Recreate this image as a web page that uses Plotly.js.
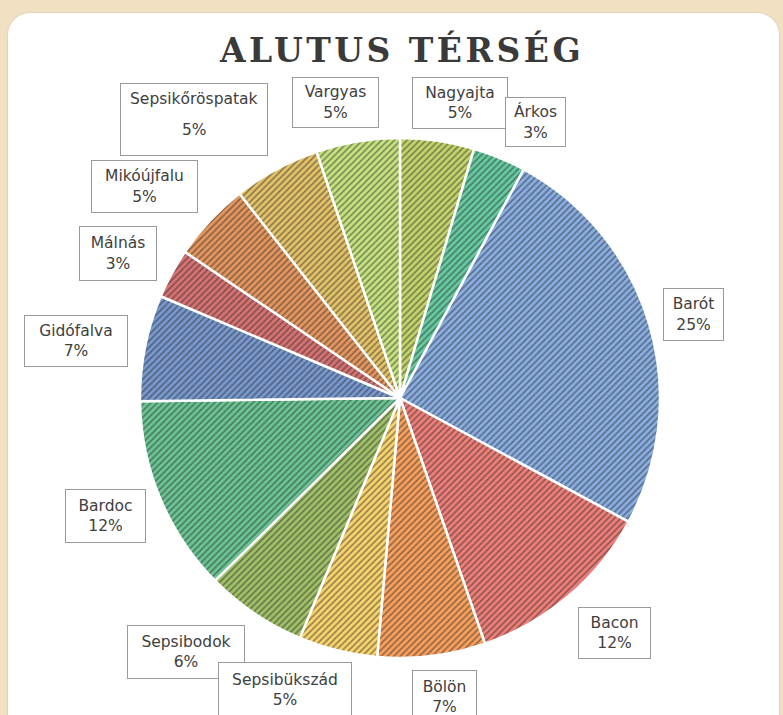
<!DOCTYPE html>
<html>
<head>
<meta charset="utf-8">
<script src="https://cdn.plot.ly/plotly-3.0.1.min.js"></script>
<style>
  html, body { margin: 0; padding: 0; background: #f2e0c3; width: 783px; height: 715px; overflow: hidden; }
  #panel { position: absolute; left: 8px; top: 13px; width: 771px; height: 730px; background: #ffffff;
           border-radius: 22px; box-shadow: 0 0 2px rgba(0,0,0,0.18); }
  #chart { position: absolute; left: 0; top: 0; width: 783px; height: 715px; }
  #chart .gtitle { letter-spacing: 3.5px; }
</style>
</head>
<body>
<div id="panel"></div>
<div id="chart"></div>
<script>
// ---- data ----
const categories = ["Nagyajta", "Árkos", "Barót", "Bacon", "Bölön", "Sepsibükszád", "Sepsibodok",
                    "Bardoc", "Gidófalva", "Málnás", "Mikóújfalu", "Sepsikőröspatak", "Vargyas"];
const values = [4.6, 3.3, 25.0, 11.8, 6.7, 4.9, 6.3, 12.2, 6.6, 3.1, 4.9, 5.4, 5.2];
const titleText = "ALUTUS TÉRSÉG";

// ---- styles ----
const sliceColors = ["#c3d46b", "#66cba1", "#89aee2", "#ef7f78", "#f9a05c", "#f9d36c", "#a0c167",
                     "#6ac593", "#7899cf", "#d77272", "#e5965e", "#e4c268", "#c5e37e"];

// label boxes in page pixels: [left, right, top, bottom]
const labelBoxes = [
  [412, 508, 77, 129],   // Nagyajta
  [505, 566, 97, 147],   // Árkos
  [663, 724, 288, 341],  // Barót
  [578, 651, 607, 659],  // Bacon
  [412, 477, 670, 724],  // Bölön
  [218, 352, 662, 718],  // Sepsibükszád
  [127, 245, 625, 679],  // Sepsibodok
  [65, 146, 489, 543],   // Bardoc
  [24, 128, 315, 367],   // Gidófalva
  [79, 157, 226, 281],   // Málnás
  [91, 198, 160, 213],   // Mikóújfalu
  [120, 268, 83, 156],   // Sepsikőröspatak
  [292, 379, 77, 128]    // Vargyas
];
// drawing order of boxes (later ones on top)
const boxOrder = [11, 12, 0, 1, 10, 9, 8, 2, 7, 3, 6, 5, 4];

const W = 783, H = 715;
const px = x => x / W;
const py = y => 1 - y / H;

const total = values.reduce((a, b) => a + b, 0);
const pctText = values.map(v => Math.round(v / total * 100) + "%");

const labelFont = { family: "DejaVu Sans, sans-serif", size: 15.5, color: "#404040" };

const annotations = [];
boxOrder.forEach(i => {
  const b = labelBoxes[i];
  const isTall = (b[3] - b[2]) > 65;
  const cx = px((b[0] + b[1]) / 2);
  annotations.push({
    xref: "paper", yref: "paper",
    x: cx, y: py((b[2] + b[3]) / 2),
    xanchor: "center", yanchor: "middle",
    width: b[1] - b[0] - 2, height: b[3] - b[2] - 2,
    showarrow: false,
    text: isTall ? " " : categories[i] + "<br>" + pctText[i],
    font: labelFont,
    bgcolor: "#ffffff", bordercolor: "#9a9a9a", borderwidth: 1, borderpad: 0
  });
  if (isTall) {
    annotations.push({ xref: "paper", yref: "paper", x: cx, y: py(99),
      xanchor: "center", yanchor: "middle", showarrow: false,
      text: categories[i], font: labelFont });
    annotations.push({ xref: "paper", yref: "paper", x: cx, y: py(130),
      xanchor: "center", yanchor: "middle", showarrow: false,
      text: pctText[i], font: labelFont });
  }
});

const trace = {
  type: "pie",
  labels: categories,
  values: values,
  sort: false,
  direction: "clockwise",
  rotation: 0,
  textinfo: "none",
  hoverinfo: "label+percent",
  showlegend: false,
  domain: { x: [px(140), px(660)], y: [py(658), py(138)] },
  marker: {
    colors: sliceColors,
    line: { color: "#ffffff", width: 2.5 },
    pattern: {
      shape: "/",
      size: 4.5,
      solidity: 0.36,
      fgcolor: "#2a2a2a",
      fgopacity: 0.5,
      bgcolor: sliceColors
    }
  }
};

const layout = {
  width: W, height: H,
  margin: { l: 0, r: 0, t: 0, b: 0 },
  paper_bgcolor: "rgba(0,0,0,0)",
  plot_bgcolor: "rgba(0,0,0,0)",
  showlegend: false,
  title: {
    text: "<b>" + titleText + "</b>",
    x: px(402), xanchor: "center",
    y: py(50), yanchor: "middle",
    font: { family: "DejaVu Serif, serif", size: 33, color: "#3a3a3a" }
  },
  annotations: annotations
};

Plotly.newPlot("chart", [trace], layout, { displayModeBar: false, staticPlot: true });
</script>
</body>
</html>
